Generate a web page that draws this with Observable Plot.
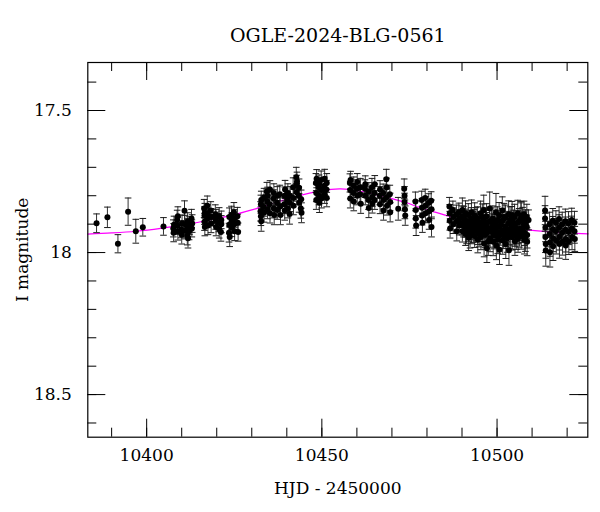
<!DOCTYPE html>
<html>
<head>
<meta charset="utf-8">
<script src="https://cdn.jsdelivr.net/npm/d3@7"></script>
<script src="https://cdn.jsdelivr.net/npm/@observablehq/plot@0.6"></script>
<style>
  html, body { margin: 0; padding: 0; background: #fff; }
  #chart svg { display: block; }
</style>
</head>
<body>
<div id="chart"></div>
<script>
// ---- Data: [HJD - 2450000, I magnitude, error] ----
const obsEarly = [
  [10385.7,17.897,0.033],[10388.8,17.876,0.036],[10391.8,17.969,0.032],[10394.7,17.856,0.048],
  [10396.9,17.925,0.042],[10398.9,17.911,0.031],[10404.8,17.908,0.031],
  [10407.6,17.915,0.030],[10407.7,17.930,0.032],[10407.8,17.902,0.030],
  [10408.7,17.885,0.034],[10408.8,17.906,0.030],[10408.9,17.925,0.031],[10408.9,17.872,0.033],
  [10409.9,17.918,0.030],[10410.0,17.937,0.033],[10410.1,17.898,0.030],
  [10410.8,17.853,0.035],[10410.9,17.900,0.031],[10410.9,17.922,0.030],
  [10411.6,17.940,0.033],[10411.7,17.912,0.031],[10411.7,17.890,0.030],[10411.8,17.950,0.034],
  [10412.1,17.925,0.030],[10412.2,17.905,0.031],
  [10412.8,17.880,0.032],[10412.9,17.915,0.030],[10413.0,17.898,0.031],
  [10416.4,17.845,0.032],[10416.5,17.870,0.031],[10416.5,17.892,0.030],[10416.6,17.860,0.033],[10416.6,17.910,0.031],
  [10417.3,17.835,0.034],[10417.4,17.862,0.030],[10417.4,17.880,0.031],[10417.5,17.905,0.032],
  [10418.3,17.852,0.031],[10418.4,17.875,0.030],[10418.4,17.898,0.032],
  [10419.6,17.865,0.033],[10419.7,17.888,0.030],[10419.8,17.910,0.031],[10419.8,17.878,0.030],
  [10420.6,17.895,0.032],[10420.7,17.918,0.031],[10420.7,17.872,0.030],
  [10421.2,17.928,0.032],[10421.3,17.900,0.030],[10421.3,17.885,0.031],
  [10423.5,17.930,0.033],[10423.6,17.902,0.031],[10423.6,17.875,0.032],[10423.7,17.945,0.034],
  [10424.2,17.868,0.031],[10424.3,17.890,0.030],[10424.3,17.912,0.032],
  [10424.9,17.858,0.034],[10425.0,17.880,0.031],[10425.0,17.900,0.030],[10425.1,17.925,0.033],
  [10425.9,17.872,0.031],[10426.0,17.895,0.030],[10426.1,17.928,0.032]
];
const obsRise = [
  [10432.5,17.855,0.034],[10432.6,17.830,0.032],[10432.6,17.872,0.033],[10432.7,17.890,0.035],[10432.7,17.815,0.031],
  [10433.4,17.840,0.032],[10433.5,17.805,0.031],[10433.5,17.860,0.033],
  [10434.3,17.785,0.032],[10434.4,17.820,0.031],[10434.5,17.848,0.033],[10434.5,17.800,0.030],
  [10435.1,17.830,0.032],[10435.2,17.862,0.034],[10435.2,17.778,0.031],
  [10436.2,17.810,0.031],[10436.3,17.845,0.033],[10436.3,17.790,0.032],[10436.4,17.868,0.034],
  [10437.2,17.825,0.031],[10437.3,17.800,0.032],[10437.3,17.850,0.033],
  [10438.0,17.795,0.032],[10438.1,17.838,0.031],[10438.2,17.868,0.034],
  [10439.3,17.830,0.033],[10439.4,17.800,0.031],[10439.4,17.852,0.034],[10439.5,17.778,0.032],
  [10440.2,17.815,0.031],[10440.3,17.790,0.032],[10440.3,17.845,0.033],
  [10440.8,17.864,0.036],[10440.9,17.825,0.031],[10440.9,17.800,0.032],
  [10441.8,17.770,0.033],[10441.9,17.808,0.031],[10441.9,17.835,0.032],
  [10442.7,17.735,0.035],[10442.8,17.760,0.032],[10442.8,17.788,0.031],[10442.9,17.750,0.033],
  [10443.4,17.800,0.032],[10443.5,17.825,0.033],[10443.5,17.772,0.031],
  [10444.0,17.845,0.034],[10444.1,17.812,0.032],[10444.2,17.860,0.035]
];
const obsPeak = [
  [10448.3,17.755,0.033],[10448.4,17.790,0.031],[10448.4,17.815,0.033],[10448.5,17.740,0.032],
  [10449.1,17.770,0.031],[10449.2,17.800,0.032],[10449.2,17.758,0.031],[10449.3,17.825,0.034],
  [10449.8,17.745,0.032],[10449.9,17.780,0.031],[10449.9,17.810,0.033],
  [10450.7,17.765,0.031],[10450.8,17.795,0.032],[10450.8,17.740,0.033],
  [10451.3,17.778,0.032],[10451.4,17.808,0.031],[10451.4,17.755,0.033],
  [10458.0,17.755,0.032],[10458.1,17.780,0.031],[10458.1,17.810,0.033],[10458.2,17.745,0.031],
  [10459.0,17.790,0.032],[10459.1,17.765,0.031],[10459.1,17.820,0.033],
  [10460.0,17.775,0.031],[10460.1,17.800,0.032],[10460.1,17.752,0.030],
  [10460.9,17.795,0.032],[10461.0,17.770,0.031],[10461.1,17.828,0.034],
  [10462.3,17.775,0.031],[10462.4,17.800,0.032],[10462.4,17.760,0.030],
  [10463.3,17.815,0.033],[10463.4,17.843,0.034],[10463.4,17.785,0.031],
  [10464.3,17.770,0.031],[10464.4,17.805,0.032],[10464.4,17.828,0.033],
  [10465.0,17.790,0.032],[10465.1,17.760,0.031],[10465.1,17.815,0.033],
  [10466.5,17.800,0.032],[10466.6,17.830,0.033],[10466.6,17.778,0.031],
  [10467.5,17.790,0.031],[10467.6,17.815,0.032],[10467.6,17.852,0.034],
  [10468.4,17.742,0.035],[10468.5,17.770,0.032],[10468.5,17.805,0.031],[10468.6,17.835,0.033],
  [10469.4,17.795,0.032],[10469.5,17.822,0.031],[10469.5,17.858,0.034]
];
const obsFall = [
  [10471.8,17.846,0.040],
  [10473.5,17.775,0.034],[10473.6,17.800,0.032],[10473.6,17.822,0.031],[10473.7,17.848,0.033],[10473.8,17.870,0.034],
  [10476.7,17.820,0.033],[10476.8,17.850,0.032],[10476.8,17.880,0.034],[10476.9,17.905,0.035],
  [10478.5,17.815,0.031],[10478.6,17.842,0.032],[10478.6,17.870,0.033],[10478.7,17.895,0.034],
  [10479.5,17.808,0.031],[10479.6,17.835,0.032],[10479.6,17.862,0.033],
  [10480.5,17.825,0.032],[10480.6,17.855,0.031],[10480.6,17.885,0.033],
  [10481.2,17.818,0.032],[10481.3,17.848,0.033],[10481.3,17.910,0.035],
  [10486.4,17.838,0.032],[10486.5,17.862,0.031],[10486.5,17.888,0.033],[10486.6,17.915,0.034],
  [10487.4,17.850,0.031],[10487.5,17.875,0.032],[10487.5,17.900,0.033],
  [10488.4,17.865,0.032],[10488.5,17.890,0.031],[10488.5,17.925,0.034],
  [10489.1,17.858,0.032],[10489.2,17.880,0.031],[10489.2,17.905,0.033]
];
const obsLate = [
  [10490.0,17.872,0.036],[10490.0,17.898,0.040],[10490.1,17.925,0.038],[10490.1,17.850,0.042],
  [10490.4,17.905,0.040],[10490.5,17.880,0.043],
  [10490.9,17.885,0.038],[10490.9,17.910,0.036],[10491.0,17.862,0.044],[10491.0,17.935,0.040],
  [10491.3,17.928,0.041],[10491.4,17.890,0.039],
  [10491.8,17.868,0.040],[10491.8,17.895,0.037],[10491.9,17.920,0.042],[10491.9,17.948,0.045],
  [10492.2,17.912,0.040],[10492.3,17.940,0.044],
  [10492.6,17.880,0.038],[10492.6,17.905,0.040],[10492.7,17.858,0.043],[10492.7,17.930,0.039],
  [10493.1,17.898,0.042],[10493.2,17.925,0.040],
  [10493.5,17.890,0.041],[10493.5,17.915,0.038],[10493.6,17.870,0.045],[10493.6,17.942,0.040],
  [10494.0,17.885,0.043],[10494.0,17.918,0.041],
  [10494.4,17.878,0.039],[10494.4,17.902,0.041],[10494.5,17.928,0.044],[10494.5,17.955,0.046],
  [10494.9,17.935,0.045],[10494.9,17.908,0.042],
  [10495.3,17.862,0.043],[10495.3,17.895,0.039],[10495.4,17.920,0.041],[10495.4,17.945,0.045],
  [10495.8,17.875,0.046],[10495.8,17.928,0.043],
  [10496.2,17.850,0.052],[10496.2,17.885,0.042],[10496.3,17.912,0.040],[10496.3,17.968,0.047],
  [10496.6,17.938,0.045],[10496.7,17.895,0.044],
  [10497.0,17.872,0.044],[10497.0,17.900,0.041],[10497.1,17.930,0.046],[10497.1,17.985,0.050],
  [10497.5,17.915,0.043],[10497.5,17.962,0.048],
  [10497.9,17.845,0.058],[10497.9,17.890,0.043],[10498.0,17.918,0.041],[10498.0,17.950,0.047],
  [10498.4,17.888,0.045],[10498.4,17.925,0.042],
  [10498.8,17.880,0.044],[10498.8,17.905,0.041],[10498.9,17.935,0.046],[10498.9,17.962,0.049],
  [10499.2,17.940,0.047],[10499.3,17.910,0.044],
  [10499.7,17.858,0.066],[10499.7,17.895,0.044],[10499.8,17.925,0.042],[10499.8,17.975,0.050],
  [10500.1,17.885,0.046],[10500.2,17.955,0.049],
  [10500.6,17.870,0.046],[10500.6,17.910,0.042],[10500.7,17.940,0.045],[10500.7,17.990,0.052],
  [10501.0,17.930,0.044],[10501.1,17.902,0.043],
  [10501.5,17.852,0.048],[10501.5,17.888,0.043],[10501.6,17.922,0.041],[10501.6,17.958,0.048],
  [10501.9,17.940,0.046],[10502.0,17.875,0.048],
  [10502.4,17.878,0.045],[10502.4,17.908,0.042],[10502.5,17.935,0.044],[10502.5,17.970,0.051],
  [10502.8,17.918,0.044],[10502.9,17.950,0.049],
  [10503.3,17.865,0.047],[10503.3,17.898,0.043],[10503.4,17.928,0.045],[10503.4,17.992,0.053],
  [10503.7,17.885,0.046],[10503.8,17.940,0.047],
  [10504.2,17.882,0.044],[10504.2,17.912,0.042],[10504.3,17.945,0.046],[10504.3,17.868,0.048],
  [10504.6,17.928,0.045],[10504.7,17.895,0.044],
  [10505.0,17.875,0.045],[10505.0,17.905,0.043],[10505.1,17.932,0.046],[10505.1,17.960,0.050],
  [10505.5,17.915,0.046],[10505.5,17.942,0.047],
  [10505.9,17.862,0.046],[10505.9,17.895,0.042],[10506.0,17.925,0.044],[10506.0,17.950,0.049],
  [10506.3,17.890,0.045],[10506.4,17.935,0.046],
  [10506.8,17.880,0.060],[10506.8,17.915,0.043],[10506.9,17.942,0.046],[10506.9,17.870,0.045],
  [10507.2,17.920,0.045],[10507.3,17.885,0.044],
  [10507.7,17.865,0.046],[10507.7,17.900,0.043],[10507.8,17.930,0.045],[10507.8,17.955,0.050],
  [10508.1,17.895,0.045],[10508.1,17.948,0.048],
  [10508.5,17.875,0.045],[10508.5,17.910,0.042],[10508.6,17.938,0.046],[10508.6,17.962,0.049],
  [10509.0,17.885,0.035],
  [10513.7,17.852,0.050],[10513.7,17.880,0.045],[10513.8,17.912,0.050],[10513.8,17.945,0.055],[10513.9,17.970,0.050],[10513.9,17.993,0.055],
  [10515.0,17.900,0.042],[10515.0,17.935,0.045],[10515.1,17.965,0.048],[10515.1,17.999,0.052],
  [10515.9,17.888,0.043],[10515.9,17.918,0.045],[10516.0,17.950,0.047],[10516.0,17.978,0.050],
  [10516.8,17.895,0.042],[10516.8,17.925,0.044],[10516.9,17.958,0.047],
  [10517.7,17.882,0.043],[10517.7,17.912,0.045],[10517.8,17.945,0.046],[10517.8,17.970,0.050],
  [10518.6,17.900,0.042],[10518.6,17.930,0.044],[10518.7,17.962,0.047],
  [10519.5,17.890,0.043],[10519.5,17.920,0.045],[10519.6,17.952,0.046],[10519.6,17.975,0.049],
  [10520.4,17.898,0.042],[10520.4,17.928,0.044],[10520.5,17.960,0.047],
  [10521.3,17.885,0.041],[10521.3,17.915,0.043],[10521.4,17.945,0.045],
  [10522.1,17.895,0.040],[10522.1,17.925,0.042],[10522.2,17.952,0.044]
];
// Model curve
const modelHjd = [10383.2,10390,10397,10404,10411,10418,10424,10430,10435,10440,10445,10450,10455,10458,10462,10466,10470,10474,10478,10482,10486,10490,10495,10500,10505,10510,10515,10520,10526];
const modelMag = [17.935,17.931,17.925,17.915,17.902,17.885,17.870,17.850,17.831,17.812,17.795,17.782,17.776,17.778,17.786,17.798,17.810,17.824,17.842,17.857,17.871,17.886,17.898,17.908,17.916,17.922,17.927,17.931,17.934];

const xMajor = [10400, 10450, 10500];
const xMinor = [10390,10400,10410,10420,10430,10440,10450,10460,10470,10480,10490,10500,10510,10520];
const yMajor = [17.5, 18, 18.5];
const yMinor = [17.4,17.5,17.6,17.7,17.8,17.9,18.0,18.1,18.2,18.3,18.4,18.5,18.6];
const xDomain = [10383.2, 10525.9];
const yDomain = [17.331, 18.650];
const titleText = "OGLE-2024-BLG-0561";
const xLabel = "HJD - 2450000";
const yLabel = "I magnitude";

// ---- Build ----
const obs = [...obsEarly, ...obsRise, ...obsPeak, ...obsFall, ...obsLate].map(([t, m, e]) => ({t, m, e}));
const model = modelHjd.map((t, i) => ({t, m: modelMag[i]}));

const W = 600, H = 512;
const mL = 87.3, mR = 12.7, mT = 62, mB = 75.3;
const innerW = W - mL - mR, innerH = H - mT - mB;

const capSymbol = {
  draw(ctx, size) {
    const w = Math.sqrt(size / Math.PI);
    ctx.moveTo(-w, 0);
    ctx.lineTo(w, 0);
  }
};

const font = "'DejaVu Serif', 'Liberation Serif', serif";

const chart = Plot.plot({
  width: W,
  height: H,
  marginLeft: mL,
  marginRight: mR,
  marginTop: mT,
  marginBottom: mB,
  style: {fontFamily: font, fontSize: "16px", color: "black", background: "white"},
  x: {domain: xDomain, axis: null},
  y: {domain: yDomain, reverse: true, axis: null},
  marks: [
    // model
    Plot.line(model, {x: "t", y: "m", stroke: "#ff00ff", strokeWidth: 1.2, curve: "catmull-rom"}),
    // error bars
    Plot.ruleX(obs, {x: "t", y1: d => d.m - d.e, y2: d => d.m + d.e, stroke: "#333", strokeWidth: 1}),
    Plot.dot(obs, {x: "t", y: d => d.m - d.e, symbol: capSymbol, r: 3.3, fill: "none", stroke: "#1a1a1a", strokeWidth: 1}),
    Plot.dot(obs, {x: "t", y: d => d.m + d.e, symbol: capSymbol, r: 3.3, fill: "none", stroke: "#1a1a1a", strokeWidth: 1}),
    Plot.dot(obs, {x: "t", y: "m", r: 3, fill: "black", stroke: "none"}),
    // frame
    Plot.frame({stroke: "black", strokeWidth: 1.2}),
    // x ticks (inward, bottom and top)
    Plot.ruleX(xMinor, {x: d => d, insetTop: innerH - 9, stroke: "black"}),
    Plot.ruleX(xMinor, {x: d => d, insetBottom: innerH - 9, stroke: "black"}),
    Plot.ruleX(xMajor, {x: d => d, insetTop: innerH - 18, stroke: "black"}),
    Plot.ruleX(xMajor, {x: d => d, insetBottom: innerH - 18, stroke: "black"}),
    // y ticks (inward, left and right)
    Plot.ruleY(yMinor, {y: d => d, insetRight: innerW - 9, stroke: "black"}),
    Plot.ruleY(yMinor, {y: d => d, insetLeft: innerW - 9, stroke: "black"}),
    Plot.ruleY(yMajor, {y: d => d, insetRight: innerW - 18, stroke: "black"}),
    Plot.ruleY(yMajor, {y: d => d, insetLeft: innerW - 18, stroke: "black"}),
    // tick labels
    Plot.axisX(xMajor, {anchor: "bottom", label: null, tickSize: 0, tickPadding: 12, fontSize: 17, tickFormat: d => String(d)}),
    Plot.axisY(yMajor, {anchor: "left", label: null, tickSize: 0, tickPadding: 16, fontSize: 17, tickFormat: d => (d === 18 ? "18" : d.toFixed(1))}),
    // titles
    Plot.text([titleText], {frameAnchor: "top", dy: -27, fontSize: 19, fill: "black", lineAnchor: "middle", textAnchor: "middle"}),
    Plot.text([xLabel], {frameAnchor: "bottom", dy: 51, fontSize: 17, fill: "black", lineAnchor: "middle", textAnchor: "middle"}),
    Plot.text([yLabel], {frameAnchor: "left", dx: -65.6, rotate: -90, fontSize: 17, fill: "black", lineAnchor: "middle", textAnchor: "middle"})
  ]
});

document.getElementById("chart").appendChild(chart);
</script>
</body>
</html>
